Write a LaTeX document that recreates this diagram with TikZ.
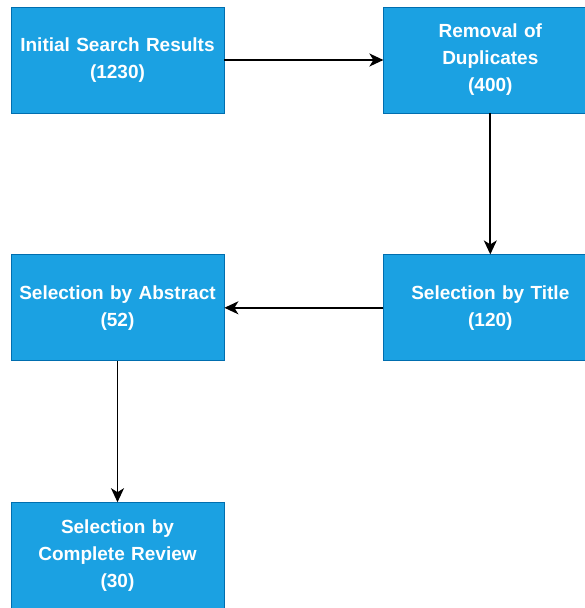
\documentclass[tikz,border=0pt]{standalone}
\usepackage{fontspec}
\setmainfont{Liberation Sans}
\usepackage{tikz}
\usetikzlibrary{positioning,arrows.meta}
\definecolor{boxfill}{HTML}{1BA1E2}
\definecolor{boxline}{HTML}{006EAF}

\begin{document}
\begin{tikzpicture}[x=1pt,y=-1pt,
  stagebox/.style={draw=boxline,line width=0.8pt,fill=boxfill,minimum width=213pt,minimum height=106pt,
    text width=205pt,align=center,text=white,font=\fontsize{19pt}{27pt}\selectfont\bfseries,inner sep=0pt},
  flow/.style={-{Stealth[length=14pt,width=13pt,inset=4pt]},line width=1.7pt,black}]
\useasboundingbox (0,0) rectangle (585,608);
\node[stagebox] (initial) at (117.5,60) {Initial Search Results\\(1230)};
\node[stagebox,right=159pt of initial] (duplicates) {Removal of\\Duplicates\\(400)};
\node[stagebox,below=141pt of duplicates] (title) {Selection by Title\\(120)};
\node[stagebox,below=141pt of initial] (abstract) {Selection by Abstract\\(52)};
\node[stagebox,below=141pt of abstract] (review) {Selection by\\Complete Review\\(30)};
\draw[flow] (initial) -- (duplicates);
\draw[flow] (duplicates) -- (title);
\draw[flow] (title) -- (abstract);
\draw[flow] (abstract) -- (review);
\end{tikzpicture}
\end{document}
